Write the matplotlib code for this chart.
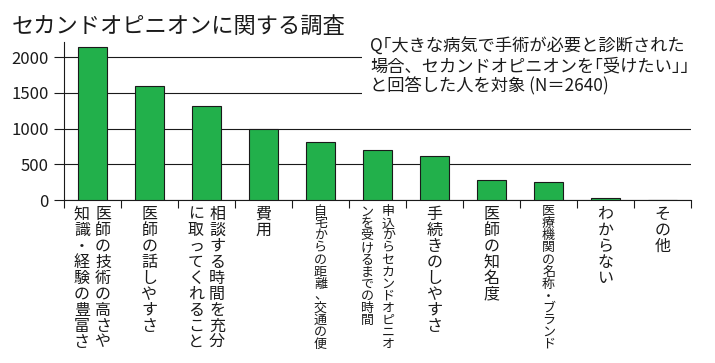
import matplotlib
matplotlib.use('Agg')
import matplotlib.pyplot as plt
from matplotlib.transforms import offset_copy

plt.rcParams['font.family'] = ['Noto Sans CJK JP', 'DejaVu Sans']

# 縦書きラベル（右の列から読む）
categories = [
    ['医師の技術の高さや', '知識・経験の豊富さ'],
    ['医師の話しやすさ'],
    ['相談する時間を充分', 'に取ってくれること'],
    ['費用'],
    ['自宅からの距離、交通の便'],
    ['申込からセカンドオピニオ', 'ンを受けるまでの時間'],
    ['手続きのしやすさ'],
    ['医師の知名度'],
    ['医療機関の名称・ブランド'],
    ['わからない'],
    ['その他'],
]
values = [2140, 1590, 1310, 990, 810, 700, 610, 275, 250, 25, 0]
yticks = [0, 500, 1000, 1500, 2000]
title = 'セカンドオピニオンに関する調査'
note = 'Q｢大きな病気で手術が必要と診断された\n場合、セカンドオピニオンを｢受けたい｣｣\nと回答した人を対象 (N＝2640)'

ink = '#1a1a1a'
green = '#22b04b'

fig = plt.figure(figsize=(7.15, 3.63), dpi=100)
ax = fig.add_axes([0.0895, 0.449, 0.877, 0.435])

x = list(range(len(values)))
ax.bar(x, values, width=0.5, color=green, edgecolor=ink, linewidth=0.8, zorder=3)
ax.set_xlim(-0.5, len(values) - 0.5)
ax.set_ylim(0, 2210)
ax.set_yticks(yticks)
ax.tick_params(axis='y', labelsize=12, length=7.5, width=0.8, pad=3.5,
               colors=ink)
ax.set_xticks([])
ax.set_xticks([i - 0.5 for i in range(len(values) + 1)], minor=True)
ax.tick_params(axis='x', which='minor', length=6, width=0.8, color=ink)
ax.grid(axis='y', color=ink, linewidth=0.8)
ax.set_axisbelow(True)
for s in ['top', 'right']:
    ax.spines[s].set_visible(False)
for s in ['left', 'bottom']:
    ax.spines[s].set_color(ink)
    ax.spines[s].set_linewidth(0.8)

# 縦書きのラベルを一文字ずつ置く
trans = ax.get_xaxis_transform()
for i, cols in enumerate(categories):
    n = max(len(c) for c in cols)
    pitch = min(11.5, 104 / n)
    fs = pitch if n <= 9 else pitch * 1.08
    offsets = [0] if len(cols) == 1 else [7.6, -7.6]
    for col, dx in zip(cols, offsets):
        for k, ch in enumerate(col):
            t = offset_copy(trans, fig=fig, x=dx,
                            y=-(3.6 + pitch * k + 0.86 * pitch), units='points')
            ax.text(i, 0, ch, transform=t, ha='center', va='baseline',
                    fontsize=fs, color=ink)

fig.text(0.0168, 0.928, title, fontsize=16, va='center', color=ink)
fig.text(0.5175, 0.897, note, fontsize=12.4, va='top', ha='left', color=ink,
         linespacing=1.12, zorder=5,
         bbox=dict(boxstyle='square,pad=0.45', facecolor='white', edgecolor='none'))

fig.savefig('out.png', dpi=100)
